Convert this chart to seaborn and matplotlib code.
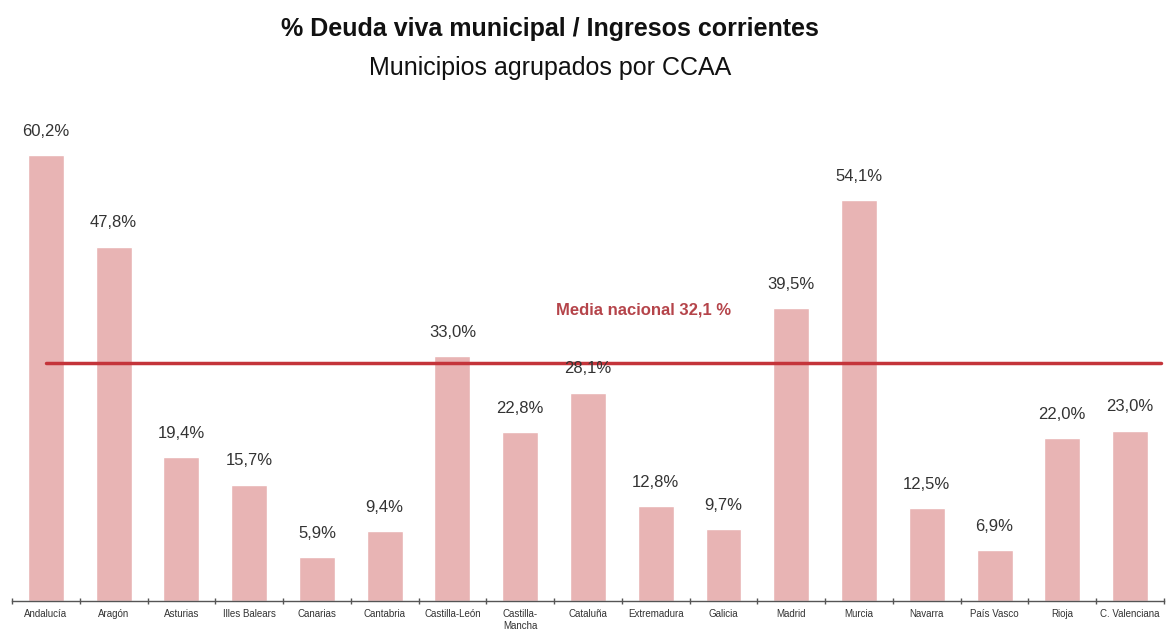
import numpy as np
import pandas as pd
import matplotlib
matplotlib.use('Agg')
import matplotlib.pyplot as plt
import seaborn as sns

# Datos
ccaa = ['Andalucía', 'Aragón', 'Asturias', 'Illes Balears', 'Canarias', 'Cantabria',
        'Castilla-León', 'Castilla-\nMancha', 'Cataluña', 'Extremadura', 'Galicia',
        'Madrid', 'Murcia', 'Navarra', 'País Vasco', 'Rioja', 'C. Valenciana']
deuda = [60.2, 47.8, 19.4, 15.7, 5.9, 9.4, 33.0, 22.8, 28.1, 12.8, 9.7,
         39.5, 54.1, 12.5, 6.9, 22.0, 23.0]
media_nacional = 32.1

df = pd.DataFrame({'ccaa': ccaa, 'deuda': deuda})

sns.set_theme(style='white')
plt.rcParams['font.family'] = ['Liberation Sans', 'DejaVu Sans']

fig = plt.figure(figsize=(11.75, 6.35), dpi=100)
ax = fig.add_axes([0.0102, 0.0535, 0.9804, 0.789])

sns.barplot(data=df, x='ccaa', y='deuda', color='#E8B4B4', width=0.53, ax=ax,
            saturation=1)

# etiquetas de valor
for i, v in enumerate(deuda):
    ax.text(i, v + 2.2, f'{v:.1f}%'.replace('.', ','), ha='center', va='bottom',
            fontsize=12, color='#333333')

# media nacional
ax.plot([0, 16.45], [media_nacional, media_nacional], color='#C4343A', lw=2.5)
ax.text(8.82, 39.3, 'Media nacional 32,1 %', ha='center', va='center',
        fontsize=12, fontweight='bold', color='#B5444A')

ax.set_xlim(-0.5, 16.5)
ax.set_ylim(0, 67.6)
ax.set_xlabel('')
ax.set_ylabel('')
ax.set_yticks([])
ax.set_xticks(range(len(ccaa)))
ax.set_xticklabels(ccaa, fontsize=7, color='#333333')
ax.set_xticks(np.arange(-0.5, 17, 1), minor=True)
ax.tick_params(axis='x', which='major', length=0, pad=6)
ax.tick_params(axis='x', which='minor', length=4, direction='inout', color='#555555',
               bottom=True)
for s in ['top', 'right', 'left']:
    ax.spines[s].set_visible(False)
ax.spines['bottom'].set_color('#555555')
ax.spines['bottom'].set_linewidth(1)

fig.text(0.468, 0.955, '% Deuda viva municipal / Ingresos corrientes', ha='center',
         va='center', fontsize=18, fontweight='bold', color='#111111')
fig.text(0.468, 0.893, 'Municipios agrupados por CCAA', ha='center', va='center',
         fontsize=18, color='#111111')

fig.savefig('out.png', dpi=100, facecolor='white')
